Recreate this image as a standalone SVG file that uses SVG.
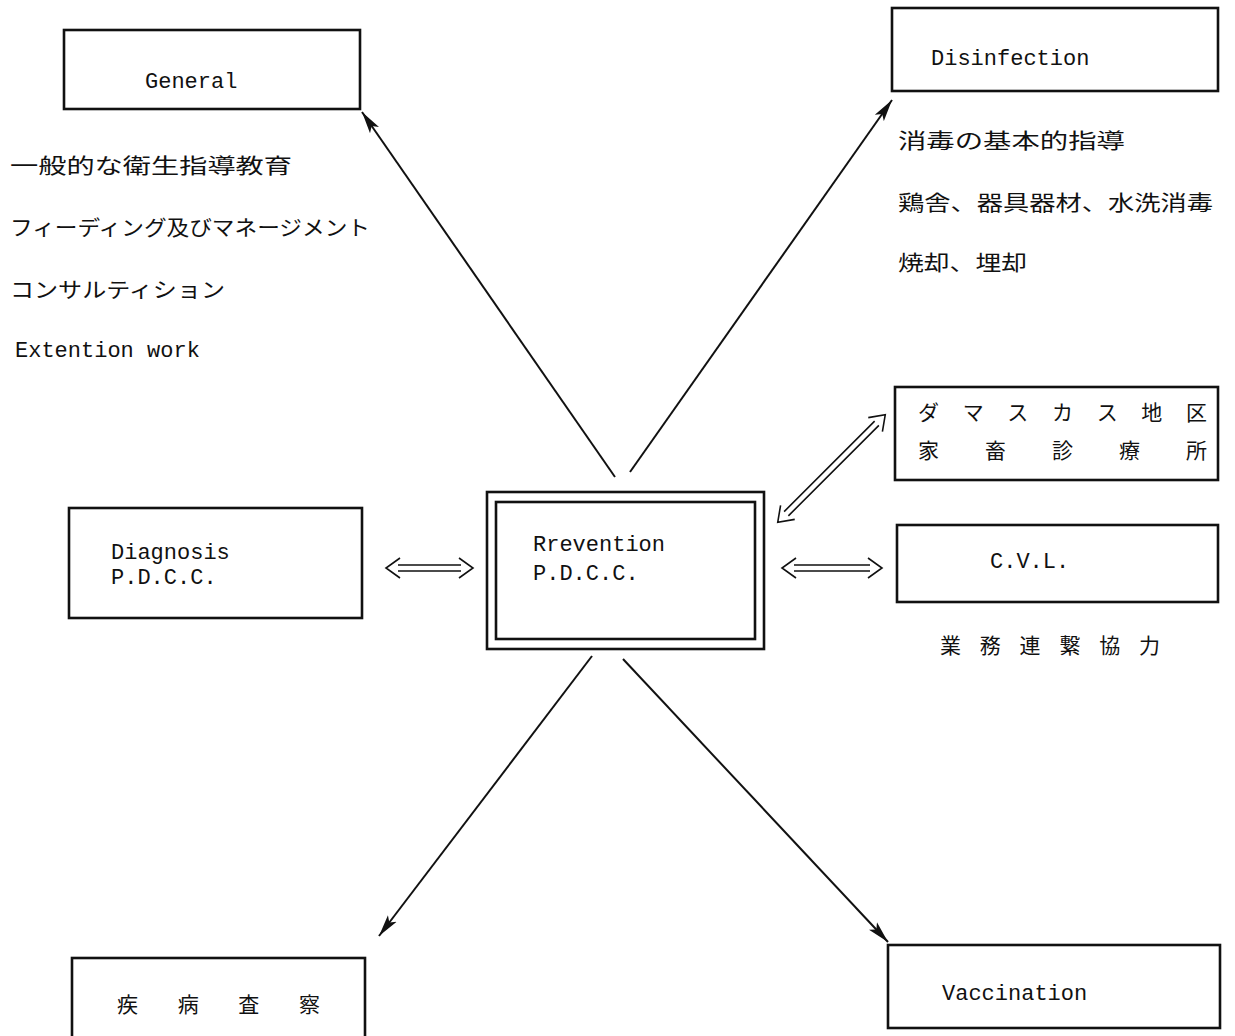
<svg xmlns="http://www.w3.org/2000/svg" width="1235" height="1036" viewBox="0 0 1235 1036">
<style>
.box{fill:none;stroke:#111;stroke-width:2.6}
.lat{font-family:"Liberation Mono","DejaVu Sans Mono",monospace;font-size:22px;fill:#111}
.jp{font-family:"Noto Sans CJK JP","Noto Sans",sans-serif;font-size:21px;fill:#111}
.ln{fill:none;stroke:#111;stroke-width:2}
.dbl{fill:none;stroke:#111;stroke-width:1.6}
</style>
<defs>
<marker id="ah" markerUnits="userSpaceOnUse" markerWidth="24" markerHeight="12" refX="22" refY="6" orient="auto">
<path d="M0,0.5 L22,6 L0,11.5 L5,6 z" fill="#111"/>
</marker>
</defs>
<rect width="1235" height="1036" fill="#fff"/>

<g id="general">
<rect class="box" x="64" y="30" width="296" height="79"/>
<text class="lat" x="145" y="88">General</text>
</g>
<g id="general-notes">
<text class="jp" x="10" y="173" textLength="282" lengthAdjust="spacingAndGlyphs">一般的な衛生指導教育</text>
<text class="jp" x="10" y="235" font-size="19" textLength="360" lengthAdjust="spacingAndGlyphs">フィーディング及びマネージメント</text>
<text class="jp" x="10" y="297" font-size="19" textLength="215" lengthAdjust="spacingAndGlyphs">コンサルティション</text>
<text class="lat" x="15" y="357" font-size="21">Extention work</text>
</g>

<g id="disinfection">
<rect class="box" x="892" y="8" width="326" height="83"/>
<text class="lat" x="931" y="65">Disinfection</text>
</g>
<g id="disinfection-notes">
<text class="jp" x="898" y="148" textLength="227" lengthAdjust="spacingAndGlyphs">消毒の基本的指導</text>
<text class="jp" x="898" y="210" textLength="315" lengthAdjust="spacingAndGlyphs">鶏舎、器具器材、水洗消毒</text>
<text class="jp" x="898" y="270" textLength="129" lengthAdjust="spacingAndGlyphs">焼却、埋却</text>
</g>

<g id="damascus">
<rect class="box" x="895" y="387" width="323" height="93"/>
<text class="jp" x="918" y="420" textLength="289" lengthAdjust="spacing">ダマスカス地区</text>
<text class="jp" x="918" y="458" textLength="289" lengthAdjust="spacing">家畜診療所</text>
</g>

<g id="cvl">
<rect class="box" x="897" y="525" width="321" height="77"/>
<text class="lat" x="990" y="568">C.V.L.</text>
</g>
<g id="cooperation">
<text class="jp" x="940" y="653" font-size="23" textLength="220" lengthAdjust="spacing">業務連繋協力</text>
</g>

<g id="diagnosis">
<rect class="box" x="69" y="508" width="293" height="110"/>
<text class="lat" x="111" y="559">Diagnosis</text>
<text class="lat" x="111" y="584">P.D.C.C.</text>
</g>

<g id="prevention">
<rect class="box" x="487" y="492" width="277" height="157"/>
<rect class="box" x="496" y="502" width="259" height="137" stroke-width="3.4"/>
<text class="lat" x="533" y="551">Rrevention</text>
<text class="lat" x="533" y="580">P.D.C.C.</text>
</g>

<g id="inspection">
<rect class="box" x="72" y="958" width="293" height="90"/>
<text class="jp" x="117" y="1012" font-size="24" textLength="203" lengthAdjust="spacing">疾病査察</text>
</g>

<g id="vaccination">
<rect class="box" x="888" y="945" width="332" height="83"/>
<text class="lat" x="942" y="1000">Vaccination</text>
</g>

<g id="connectors">
<line class="ln" x1="615" y1="477" x2="362" y2="112" marker-end="url(#ah)"/>
<line class="ln" x1="630" y1="472" x2="892" y2="100" marker-end="url(#ah)"/>
<line class="ln" x1="592" y1="656" x2="379" y2="936" marker-end="url(#ah)"/>
<line class="ln" x1="623" y1="659" x2="888" y2="942" marker-end="url(#ah)"/>
<!-- Diagnosis <-> Prevention -->
<path class="dbl" d="M398,565 H461 M398,571 H461 M400,558 L386,568 L400,578 M459,558 L473,568 L459,578"/>
<!-- Prevention <-> CVL -->
<path class="dbl" d="M794,565 H870 M794,571 H870 M796,558 L782,568 L796,578 M868,558 L882,568 L868,578"/>
<!-- Prevention <-> Damascus (diagonal) -->
<g transform="translate(831.5,468.5) rotate(-45)">
<path class="dbl" d="M-64,-3 H64 M-64,3 H64 M-62,-10 L-76,0 L-62,10 M62,-10 L76,0 L62,10"/>
</g>
</g>
</svg>
